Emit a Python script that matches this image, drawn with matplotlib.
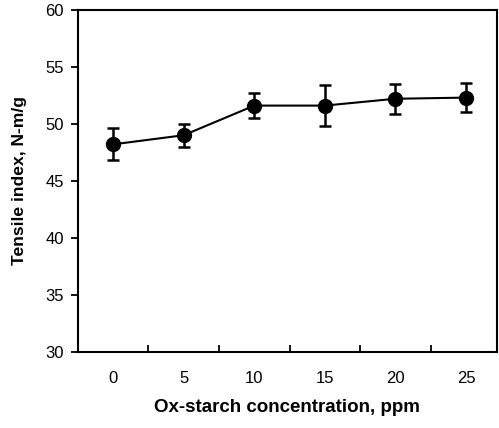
import matplotlib.pyplot as plt
from matplotlib.ticker import FixedLocator

plt.rcParams['font.family'] = ['Liberation Sans', 'DejaVu Sans']

conc = [0, 5, 10, 15, 20, 25]
tensile = [48.2, 49.0, 51.6, 51.6, 52.2, 52.3]
err = [1.4, 1.0, 1.1, 1.8, 1.3, 1.3]
yticks = [30, 35, 40, 45, 50, 55, 60]

fig = plt.figure(figsize=(4.99, 4.28), dpi=100)
ax = fig.add_axes([0.156, 0.178, 0.84, 0.799])

ax.errorbar(conc, tensile, yerr=err, color='black', marker='o', markersize=10,
            linewidth=1.5, elinewidth=1.8, capsize=4, capthick=1.8)

ax.set_xlim(-2.5, 27.2)
ax.set_ylim(30, 60)
ax.set_yticks(yticks)
ax.set_xticks(conc)
ax.xaxis.set_minor_locator(FixedLocator([2.5, 7.5, 12.5, 17.5, 22.5]))
ax.tick_params(axis='x', which='major', length=0, pad=14, labelsize=12)
ax.tick_params(axis='x', which='minor', direction='in', length=5, width=1.3)
ax.tick_params(axis='y', direction='out', length=5, width=1.3, labelsize=12, pad=5)
for s in ax.spines.values():
    s.set_linewidth(1.5)

ax.set_xlabel('Ox-starch concentration, ppm', fontsize=13.5, fontweight='bold', labelpad=9)
ax.set_ylabel('Tensile index, N-m/g', fontsize=12.6, fontweight='bold', labelpad=13)

fig.savefig('out.png', dpi=100)
